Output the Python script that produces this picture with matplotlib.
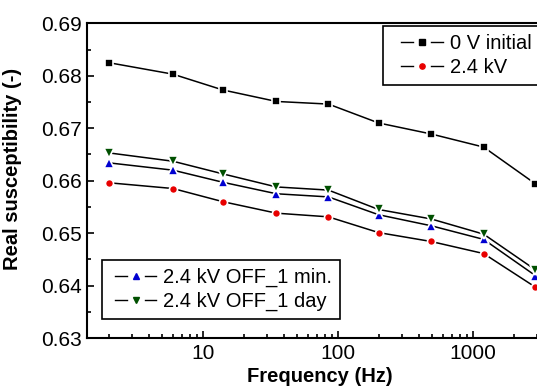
import numpy as np
import matplotlib.pyplot as plt
from matplotlib.lines import Line2D
from matplotlib.legend_handler import HandlerBase
from matplotlib.ticker import FixedLocator, LogLocator, MultipleLocator, NullFormatter

plt.rcParams['font.family'] = ['Liberation Sans', 'DejaVu Sans']

# data
freq = [2, 6, 14, 35, 85, 200, 490, 1200, 2900]
v_initial = [0.6825, 0.6803, 0.6773, 0.6751, 0.6746, 0.6710, 0.6689, 0.6664, 0.6594]
v_24kv = [0.6596, 0.6585, 0.6560, 0.6538, 0.6531, 0.6501, 0.6484, 0.6461, 0.6397]
v_off_1min = [0.6634, 0.6620, 0.6597, 0.6575, 0.6569, 0.6535, 0.6514, 0.6488, 0.6419]
v_off_1day = [0.6653, 0.6637, 0.6613, 0.6588, 0.6582, 0.6545, 0.6527, 0.6498, 0.6430]

labels = ["0 V initial", "2.4 kV", "2.4 kV OFF_1 min.", "2.4 kV OFF_1 day"]
markers = ["s", "o", "^", "v"]
colors = ["black", "#e80000", "#0000d0", "#005000"]
msizes = [5.5, 5.8, 7.3, 7.3]

W, H = 537, 388
fig = plt.figure(figsize=(W / 100, H / 100), dpi=100)
# axes right edge lies past the figure edge (reference is cropped)
ax = fig.add_axes([87 / W, (H - 338) / H, (553 - 87) / W, (338 - 23.3) / H])

series = [v_initial, v_24kv, v_off_1min, v_off_1day]
for vals, m, c, s in zip(series, markers, colors, msizes):
    ax.plot(freq, vals, color="black", lw=1.1, marker=m, ms=s,
            mfc=c, mec="white", mew=1.2, zorder=3)

ax.set_xscale("log")
ax.set_xlim(1.384, 3917)
ax.set_ylim(0.63, 0.69)
ax.yaxis.set_major_locator(MultipleLocator(0.01))
ax.yaxis.set_minor_locator(MultipleLocator(0.005))
ax.yaxis.set_major_formatter(plt.FuncFormatter(lambda v, p: f"{v:.2f}"))
ax.xaxis.set_major_locator(FixedLocator([10, 100, 1000]))
ax.xaxis.set_minor_locator(LogLocator(base=10, subs=np.arange(2, 10)))
ax.xaxis.set_minor_formatter(NullFormatter())
ax.xaxis.set_major_formatter(plt.FuncFormatter(lambda v, p: f"{v:g}"))
ax.tick_params(which="both", direction="in", labelsize=15, top=False, right=False, width=1.2)
ax.tick_params(which="major", length=5, pad=4)
ax.tick_params(which="minor", length=3)
for s in ax.spines.values():
    s.set_linewidth(1.5)

ax.set_xlabel("Frequency (Hz)", fontsize=14.5, fontweight="bold", labelpad=3)
ax.set_ylabel("Real susceptibility (-)", fontsize=14.5, fontweight="bold")
ax.yaxis.set_label_coords(-0.139, 0.537)


class GapHandler(HandlerBase):
    # Origin style legend: "— marker —" with gaps around the marker
    def __init__(self, lead):
        super().__init__()
        self.lead = lead

    def create_artists(self, legend, orig, xdescent, ydescent, width, height, fontsize, trans):
        y = height / 2 - ydescent
        x0 = -xdescent + self.lead
        w = width - self.lead
        seg = 0.28 * w
        a = Line2D([x0, x0 + seg], [y, y], color="black", lw=1.0, transform=trans)
        b = Line2D([x0 + w - seg, x0 + w], [y, y], color="black", lw=1.0, transform=trans)
        mk = Line2D([x0 + w / 2], [y], ls="none", marker=orig.get_marker(),
                    ms=orig.get_markersize(), mfc=orig.get_markerfacecolor(),
                    mec=orig.get_markerfacecolor(), transform=trans)
        return [a, b, mk]


hs = [Line2D([], [], marker=m, ms=4.0 if m != "o" else 3.8, mfc=c) for m, c in zip(markers, colors)]
common = dict(fontsize=14.5, fancybox=False, edgecolor="black", framealpha=1,
              handletextpad=0.35, borderaxespad=0, borderpad=0.4, labelspacing=0.25)
leg1 = ax.legend(hs[:2], labels[:2], loc="upper left", handlelength=2.6,
                 handler_map={Line2D: GapHandler(7)},
                 bbox_to_anchor=(383 / W, 1 - 25.7 / H), bbox_transform=fig.transFigure, **common)
leg1.get_frame().set_linewidth(1.2)
ax.add_artist(leg1)
leg2 = ax.legend(hs[2:], labels[2:], loc="lower left", handlelength=2.3,
                 handler_map={Line2D: GapHandler(4)},
                 bbox_to_anchor=(101.7 / W, 1 - 319.3 / H), bbox_transform=fig.transFigure, **common)
leg2.get_frame().set_linewidth(1.2)

fig.savefig("out.png", dpi=100)
